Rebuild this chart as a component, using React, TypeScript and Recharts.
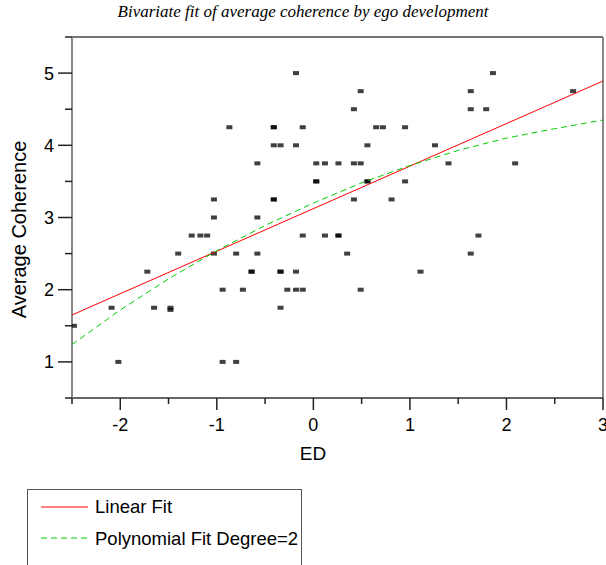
import React from "react";
import { ScatterChart, Scatter, XAxis, YAxis, ReferenceLine } from "recharts";

const title = "Bivariate fit of average coherence by ego development";
const xLabel = "ED";
const yLabel = "Average Coherence";
const legendLabels = ["Linear Fit", "Polynomial Fit Degree=2"];

const xTicks = [-2.5, -2, -1.5, -1, -0.5, 0, 0.5, 1, 1.5, 2, 2.5, 3];
const yTicks = [0.5, 1, 1.5, 2, 2.5, 3, 3.5, 4, 4.5, 5, 5.5];

const edValues = [
  -0.18, 1.86,
  0.49, 1.63, 2.69,
  0.42, 1.63, 1.79,
  -0.87, -0.41, -0.41, -0.11, 0.65, 0.72, 0.95,
  -0.41, -0.34, -0.18, 0.56, 1.26,
  -0.58, 0.03, 0.12, 0.26, 0.42, 0.49, 1.4, 2.09,
  0.03, 0.03, 0.56, 0.56, 0.95,
  -1.03, -0.41, -0.41, 0.42, 0.81,
  -1.03, -0.58,
  -1.26, -1.17, -1.1, -0.11, 0.12, 0.26, 0.26, 1.71,
  -1.4, -1.03, -0.8, -0.58, 0.35, 1.63,
  -1.72, -0.64, -0.64, -0.34, -0.34, -0.18, 1.11,
  -0.94, -0.73, -0.27, -0.18, -0.11, 0.49,
  -2.09, -1.65, -1.48, -1.48, -0.34,
  -2.48,
  -2.02, -0.94, -0.8,
];

const coherenceValues = [
  5, 5,
  4.75, 4.75, 4.75,
  4.5, 4.5, 4.5,
  4.25, 4.25, 4.25, 4.25, 4.25, 4.25, 4.25,
  4, 4, 4, 4, 4,
  3.75, 3.75, 3.75, 3.75, 3.75, 3.75, 3.75, 3.75,
  3.5, 3.5, 3.5, 3.5, 3.5,
  3.25, 3.25, 3.25, 3.25, 3.25,
  3, 3,
  2.75, 2.75, 2.75, 2.75, 2.75, 2.75, 2.75, 2.75,
  2.5, 2.5, 2.5, 2.5, 2.5, 2.5,
  2.25, 2.25, 2.25, 2.25, 2.25, 2.25, 2.25,
  2, 2, 2, 2, 2, 2,
  1.75, 1.75, 1.75, 1.72, 1.75,
  1.5,
  1, 1, 1,
];

const linearX = [-2.5, 3];
const linearY = [1.65, 4.89];

const polyX = [-2.5, -2, -1.5, -1, -0.5, 0, 0.5, 1, 1.5, 2, 2.5, 3];
const polyY = [1.24, 1.72, 2.15, 2.54, 2.89, 3.2, 3.48, 3.72, 3.93, 4.1, 4.23, 4.35];

const points = edValues.map((x, i) => ({ x, y: coherenceValues[i] }));
const linearData = linearX.map((x, i) => ({ x, y: linearY[i] }));
const polyData = polyX.map((x, i) => ({ x, y: polyY[i] }));

const SANS = "'Liberation Sans', Arial, Helvetica, sans-serif";
const SERIF = "'Liberation Serif', 'Times New Roman', serif";

const isMajor = (v: number) => Math.abs(v - Math.round(v)) < 1e-9;

const YTick = (props: any) => {
  const { x, y, payload } = props;
  const v = payload.value;
  const major = isMajor(v);
  return (
    <g>
      <line x1={x - (major ? 14 : 7)} x2={x} y1={y} y2={y} stroke="#222" strokeWidth={1.5} />
      {major && (
        <text x={x - 18} y={y + 6.5} textAnchor="end" fontFamily={SANS} fontSize={18} fill="#000">
          {v}
        </text>
      )}
    </g>
  );
};

const XTick = (props: any) => {
  const { x, y, payload } = props;
  const v = payload.value;
  const major = isMajor(v);
  return (
    <g>
      <line x1={x} x2={x} y1={y} y2={y + (major ? 12 : 6)} stroke="#222" strokeWidth={1.5} />
      {major && (
        <text x={x} y={y + 33} textAnchor="middle" fontFamily={SANS} fontSize={18} fill="#000">
          {v}
        </text>
      )}
    </g>
  );
};

const Marker = (props: any) => {
  const { cx, cy } = props;
  return <rect x={cx - 3} y={cy - 2} width={6} height={4} fill="#000" fillOpacity={0.75} />;
};

const NoMarker = () => <g />;

export default function App() {
  return (
    <div style={{ position: "absolute", left: 0, top: 0, width: 606, height: 565, background: "#fff", overflow: "hidden" }}>
      <div
        style={{
          position: "absolute",
          left: 0,
          top: 3,
          width: 606,
          textAlign: "center",
          fontFamily: SERIF,
          fontStyle: "italic",
          fontSize: 17,
          lineHeight: "17px",
          color: "#000",
        }}
      >
        {title}
      </div>
      <ScatterChart width={606} height={565} margin={{ top: 37, right: 3, bottom: 0, left: 0 }}>
        <XAxis
          type="number"
          dataKey="x"
          domain={[-2.5, 3]}
          ticks={xTicks}
          interval={0}
          allowDataOverflow
          height={167}
          tickSize={0}
          tickMargin={0}
          tickLine={false}
          tick={<XTick />}
          axisLine={{ stroke: "#333", strokeWidth: 1.5 }}
          label={{
            content: (p: any) => {
              const vb = p.viewBox || { x: 72, y: 398 };
              return (
                <text x={313} y={vb.y + 62} textAnchor="middle" fontFamily={SANS} fontSize={19} fill="#000">
                  {xLabel}
                </text>
              );
            },
          }}
        />
        <YAxis
          type="number"
          dataKey="y"
          domain={[0.5, 5.5]}
          ticks={yTicks}
          interval={0}
          allowDataOverflow
          width={72}
          tickSize={0}
          tickMargin={0}
          tickLine={false}
          tick={<YTick />}
          axisLine={{ stroke: "#888", strokeWidth: 2 }}
          label={{
            content: (p: any) => {
              const vb = p.viewBox || { x: 0, y: 37, width: 72, height: 361 };
              const cy = vb.y + vb.height / 2 + 12;
              const cx = vb.x + 26;
              return (
                <text
                  x={cx}
                  y={cy}
                  transform={`rotate(-90 ${cx} ${cy})`}
                  textAnchor="middle"
                  fontFamily={SANS}
                  fontSize={20}
                  fill="#000"
                >
                  {yLabel}
                </text>
              );
            },
          }}
        />
        <ReferenceLine y={5.5} stroke="#444" strokeWidth={1.5} ifOverflow="visible" />
        <ReferenceLine x={3} stroke="#888" strokeWidth={2} ifOverflow="visible" />
        <Scatter data={points} shape={<Marker />} isAnimationActive={false} />
        <Scatter
          data={linearData}
          line={{ stroke: "#ff0000", strokeWidth: 1 }}
          lineType="joint"
          shape={<NoMarker />}
          isAnimationActive={false}
        />
        <Scatter
          data={polyData}
          line={{ stroke: "#00cc00", strokeWidth: 1, strokeDasharray: "6 4" }}
          lineType="joint"
          shape={<NoMarker />}
          isAnimationActive={false}
        />
      </ScatterChart>
      <div
        style={{
          position: "absolute",
          left: 27,
          top: 489,
          width: 275,
          height: 120,
          border: "1px solid #555",
          boxSizing: "border-box",
          fontFamily: SANS,
          fontSize: 18.5,
          color: "#000",
        }}
      >
        <svg width={60} height={80} style={{ position: "absolute", left: 0, top: 0 }}>
          <line x1={13} x2={61} y1={17} y2={17} stroke="#ff0000" strokeWidth={1} />
          <line x1={13} x2={61} y1={48} y2={48} stroke="#00cc00" strokeWidth={1} strokeDasharray="6 4" />
        </svg>
        <div style={{ position: "absolute", left: 67, top: 6, lineHeight: "22px", whiteSpace: "nowrap" }}>
          {legendLabels[0]}
        </div>
        <div style={{ position: "absolute", left: 67, top: 38, lineHeight: "22px", whiteSpace: "nowrap" }}>
          {legendLabels[1]}
        </div>
      </div>
    </div>
  );
}
